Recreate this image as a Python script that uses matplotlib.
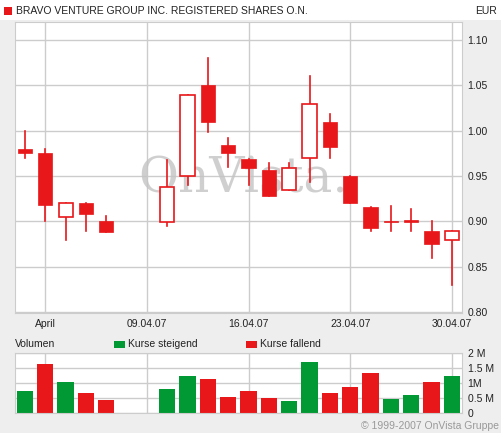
import matplotlib
matplotlib.use("Agg")
import matplotlib.pyplot as plt
from matplotlib.patches import Rectangle

plt.rcParams['font.family'] = ['Liberation Sans', 'DejaVu Sans']

# trading-day index (Mar 30 = 0 ... Apr 30 = 21; 5 and 6 are holidays)
idx    = [0, 1, 2, 3, 4, 7, 8, 9, 10, 11, 12, 13, 14, 15, 16, 17, 18, 19, 20, 21]
opens  = [0.980, 0.975, 0.905, 0.920, 0.901, 0.899, 0.950, 1.050, 0.984, 0.969, 0.957, 0.935, 0.970, 1.010, 0.950, 0.916, 0.901, 0.902, 0.889, 0.879]
closes = [0.975, 0.918, 0.920, 0.908, 0.888, 0.938, 1.040, 1.010, 0.975, 0.959, 0.928, 0.959, 1.030, 0.982, 0.920, 0.893, 0.899, 0.899, 0.875, 0.889]
highs  = [1.000, 0.980, 0.920, 0.920, 0.906, 0.968, 1.040, 1.080, 0.992, 0.969, 0.964, 0.964, 1.060, 1.019, 0.950, 0.916, 0.917, 0.914, 0.900, 0.889]
lows   = [0.970, 0.900, 0.880, 0.889, 0.888, 0.895, 0.940, 0.999, 0.960, 0.940, 0.928, 0.935, 0.943, 0.970, 0.920, 0.889, 0.890, 0.890, 0.860, 0.830]
volumes = [0.74, 1.62, 1.04, 0.66, 0.42, 0.81, 1.24, 1.14, 0.54, 0.72, 0.51, 0.39, 1.71, 0.66, 0.88, 1.32, 0.46, 0.61, 1.02, 1.24]
vol_up  = [1, 0, 1, 0, 0, 1, 1, 0, 0, 0, 0, 1, 1, 0, 0, 0, 1, 1, 0, 1]
xtick_pos = [1, 6, 11, 16, 21]
xtick_labels = ['April', '09.04.07', '16.04.07', '23.04.07', '30.04.07']
price_ticks = [0.80, 0.85, 0.90, 0.95, 1.00, 1.05, 1.10]
vol_ticks = [0, 0.5, 1, 1.5, 2]
vol_labels = ['0', '0.5 M', '1M', '1.5 M', '2 M']

RED = '#e8171a'
GREEN = '#009933'
GRID = '#cccccc'
W, H = 501, 433

fig = plt.figure(figsize=(W/100, H/100), dpi=100, facecolor='#eeeeee')
fig.patches.append(Rectangle((0, (H-20)/H), 1, 20/H, transform=fig.transFigure,
                             facecolor='white', edgecolor='none', zorder=0))

def axrect(x0, y0, x1, y1):
    return [x0/W, (H-y1)/H, (x1-x0)/W, (y1-y0)/H]

ax = fig.add_axes(axrect(15, 22, 462, 313))
ax.set_facecolor('white')
ax.set_xlim(-0.49, 21.5)
ax.set_ylim(0.799, 1.12)
for s in ax.spines.values():
    s.set_color(GRID)
ax.set_yticks(price_ticks)
ax.set_yticklabels([f'{v:.2f}' for v in price_ticks])
ax.yaxis.tick_right()
ax.set_xticks(xtick_pos)
ax.set_xticklabels(xtick_labels)
ax.tick_params(length=0, labelsize=7.5, colors='#222222', pad=4)
ax.grid(True, color=GRID, linewidth=1)
ax.set_axisbelow(True)

ax.text(0.51, 0.46, 'OnVista.', transform=ax.transAxes, ha='center', va='center',
        fontsize=35, family='DejaVu Serif', color='#c4c4c4', alpha=0.8, zorder=1)

bw = 0.7
for i, o, c, h, l in zip(idx, opens, closes, highs, lows):
    ax.plot([i, i], [l, h], color=RED, linewidth=1.2, zorder=2)
    bot, top = min(o, c), max(o, c)
    hgt = max(top - bot, 0.0015)
    if c >= o:
        ax.add_patch(Rectangle((i-bw/2, bot), bw, hgt, facecolor='white', edgecolor=RED, linewidth=1.2, zorder=3))
    else:
        ax.add_patch(Rectangle((i-bw/2, bot), bw, hgt, facecolor=RED, edgecolor=RED, linewidth=0.5, zorder=3))

vax = fig.add_axes(axrect(15, 353, 462, 413))
vax.set_facecolor('white')
vax.set_xlim(-0.49, 21.5)
vax.set_ylim(0, 2)
for s in vax.spines.values():
    s.set_color(GRID)
vax.set_yticks(vol_ticks)
vax.set_yticklabels(vol_labels)
vax.yaxis.tick_right()
vax.set_xticks(xtick_pos)
vax.set_xticklabels([])
vax.tick_params(length=0, labelsize=7.5, colors='#222222', pad=4)
vax.grid(True, color=GRID, linewidth=1)
vax.set_axisbelow(True)
vax.bar(idx, volumes, width=0.8, color=[GREEN if u else RED for u in vol_up], zorder=2)

def px(x, y):
    return x/W, (H-y)/H

fig.patches.append(Rectangle(px(4, 15), 8/W, 8/H, transform=fig.transFigure, facecolor=RED, edgecolor='none'))
fig.text(*px(16, 11), 'BRAVO VENTURE GROUP INC. REGISTERED SHARES O.N.', fontsize=7.5, va='center', color='#222222')
fig.text(*px(497, 11), 'EUR', fontsize=7.5, va='center', ha='right', color='#222222')
fig.text(*px(15, 344), 'Volumen', fontsize=7.5, va='center', color='#222222')
fig.patches.append(Rectangle(px(114, 348), 11/W, 7/H, transform=fig.transFigure, facecolor=GREEN, edgecolor='none'))
fig.text(*px(128, 344), 'Kurse steigend', fontsize=7.5, va='center', color='#222222')
fig.patches.append(Rectangle(px(246, 348), 11/W, 7/H, transform=fig.transFigure, facecolor=RED, edgecolor='none'))
fig.text(*px(260, 344), 'Kurse fallend', fontsize=7.5, va='center', color='#222222')
fig.text(*px(499, 426), '© 1999-2007 OnVista Gruppe', fontsize=7.5, va='center', ha='right', color='#999999')

fig.savefig('out.png', dpi=100, facecolor=fig.get_facecolor())
